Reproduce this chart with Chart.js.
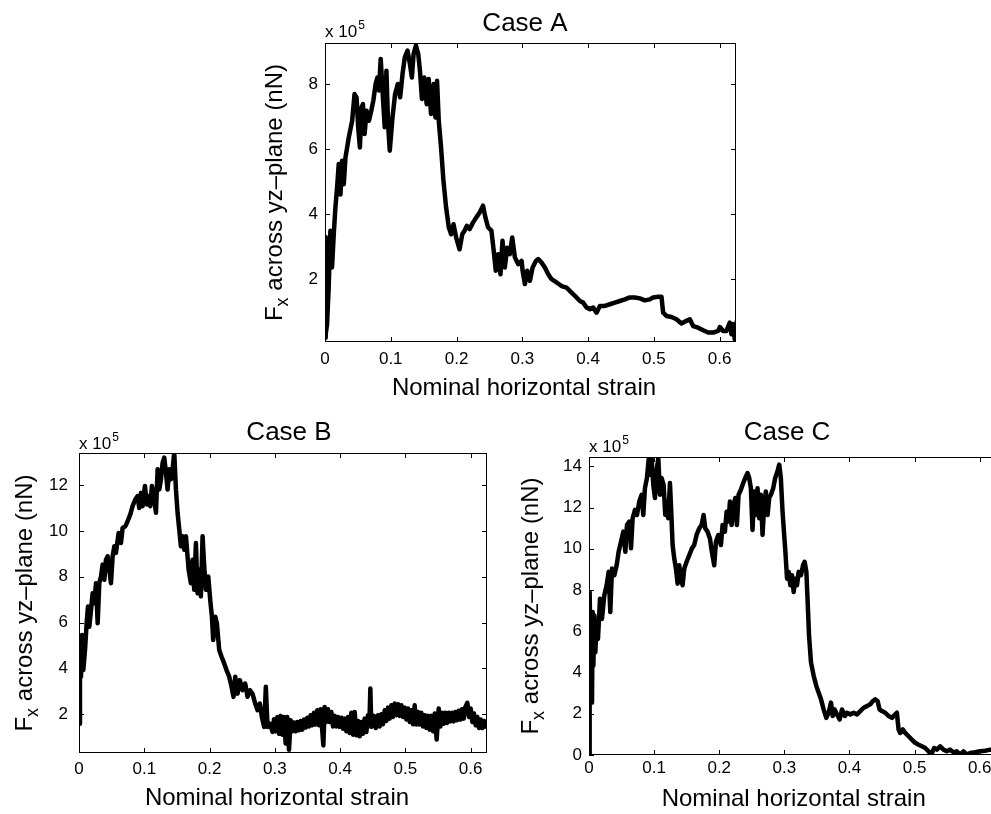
<!DOCTYPE html>
<html>
<head>
<meta charset="utf-8">
<title>Fx across yz-plane</title>
<script src="https://cdn.jsdelivr.net/npm/chart.js"></script>
<style>
  html, body { margin: 0; padding: 0; background: #fff; overflow: hidden; }
  #page { position: relative; width: 991px; height: 814px; overflow: hidden; background: #fff; }
  canvas { position: absolute; }
</style>
</head>
<body>
<div id="page">
  <canvas id="chartA" width="560" height="410" style="left:240px;top:0px"></canvas>
  <canvas id="chartB" width="560" height="409" style="left:0px;top:405px"></canvas>
  <canvas id="chartC" width="554" height="409" style="left:510px;top:405px"></canvas>
</div>
<script>
// values, force in units of 1e5 nN
const caseA_strain = [0, 0.0006, 0.0015, 0.0031, 0.0056, 0.0082, 0.0107, 0.0133, 0.0158, 0.0184, 0.0209, 0.0235, 0.026, 0.0286, 0.0311, 0.0362, 0.0413, 0.0449, 0.048, 0.0505, 0.0531, 0.0556, 0.0577, 0.0602, 0.0633, 0.0668, 0.0704, 0.0735, 0.077, 0.0796, 0.0821, 0.0847, 0.0872, 0.0908, 0.0934, 0.0959, 0.0985, 0.1026, 0.1066, 0.1107, 0.1143, 0.1179, 0.1214, 0.1255, 0.1291, 0.1321, 0.1347, 0.1383, 0.1418, 0.1444, 0.1474, 0.151, 0.1546, 0.1577, 0.1612, 0.1653, 0.1679, 0.1704, 0.173, 0.1765, 0.1801, 0.1842, 0.1883, 0.1918, 0.1954, 0.1995, 0.2046, 0.2087, 0.2122, 0.2158, 0.2199, 0.225, 0.2301, 0.2352, 0.2403, 0.2439, 0.248, 0.2531, 0.2566, 0.2597, 0.2633, 0.2668, 0.2699, 0.2735, 0.277, 0.2811, 0.2847, 0.2888, 0.2939, 0.299,
  0.3005, 0.304, 0.3075, 0.3116, 0.3157, 0.3207, 0.3243, 0.3293, 0.3344, 0.3395, 0.3445, 0.3521, 0.3597, 0.3673, 0.3749, 0.3825, 0.3876, 0.3927, 0.3977, 0.4028, 0.4078, 0.4129, 0.418, 0.4256, 0.4332, 0.4408, 0.4484, 0.456, 0.4636, 0.4712, 0.4788, 0.4864, 0.494, 0.499, 0.5066, 0.5117, 0.5142, 0.5193, 0.5269, 0.5345, 0.5421, 0.5497, 0.5548, 0.5598, 0.5674, 0.575, 0.5826, 0.5902, 0.5978, 0.6004, 0.6054, 0.6105, 0.6155, 0.6181, 0.6206, 0.6231, 0.6262];
const caseA_force = [0.2, 3.3, 0.3, 0.62, 1.74, 3.49, 2.36, 3.38, 4.2, 4.82, 5.54, 4.6, 5.64, 4.92, 5.74, 6.36, 6.87, 7.69, 7.59, 6.67, 6.05, 7.28, 7.38, 6.46, 7.18, 6.87, 7.18, 7.49, 8.0, 8.2, 7.8, 8.77, 7.9, 6.67, 8.41, 6.77, 5.95, 6.97, 7.69, 8.0, 7.59, 8.31, 8.82, 9.03, 8.62, 8.2, 8.92, 9.18, 8.92, 8.41, 7.54, 8.2, 7.38, 8.15, 7.08, 8.0, 6.97, 8.1, 6.87, 6.05, 5.03, 4.2, 3.59, 3.38, 3.69, 3.28, 2.92, 3.38, 3.49, 3.64, 3.54, 3.74, 3.9, 4.05, 4.26, 3.9, 3.59, 3.49, 2.87, 2.26, 2.77, 2.15, 3.18, 2.36, 2.97, 2.77, 3.28, 2.67, 2.46, 2.56,
  2.26, 1.85, 2.26, 1.95, 2.36, 2.56, 2.62, 2.51, 2.36, 2.15, 2.0, 1.9, 1.79, 1.74, 1.59, 1.44, 1.33, 1.28, 1.13, 1.08, 1.13, 0.97, 1.18, 1.18, 1.23, 1.28, 1.33, 1.38, 1.44, 1.44, 1.41, 1.35, 1.38, 1.44, 1.46, 1.46, 0.97, 0.87, 0.84, 0.77, 0.64, 0.72, 0.77, 0.56, 0.51, 0.43, 0.36, 0.36, 0.41, 0.53, 0.41, 0.41, 0.67, 0.31, 0.62, 0.15, 0.72];

const caseB_strain = [0, 0.0015, 0.0031, 0.0046, 0.0066, 0.0092, 0.0117, 0.0138, 0.0158, 0.0184, 0.0209, 0.0235, 0.026, 0.0286, 0.0311, 0.0337, 0.0362, 0.0388, 0.0413, 0.0439, 0.0464, 0.049, 0.0515, 0.0541, 0.0566, 0.0607, 0.0643, 0.0668, 0.0709, 0.0745, 0.0786, 0.0821, 0.0862, 0.0898, 0.0923, 0.0949, 0.0974, 0.101, 0.1041, 0.1066, 0.1092, 0.1117, 0.1153, 0.1179, 0.1204, 0.123, 0.1255, 0.1281, 0.1306, 0.1332, 0.1357, 0.1383, 0.1408, 0.1434, 0.1459, 0.1485, 0.151, 0.1536, 0.1561, 0.1587, 0.1612, 0.1638, 0.1679, 0.1714, 0.174, 0.1765, 0.1791, 0.1816, 0.1842, 0.1867, 0.1893, 0.1918, 0.1944, 0.198, 0.201, 0.2036, 0.2056, 0.2087, 0.2112, 0.2148, 0.2184, 0.2224, 0.226, 0.2301, 0.2337, 0.2367, 0.2393, 0.2429, 0.2464, 0.2505, 0.2546, 0.2582, 0.2617, 0.2658, 0.2699, 0.2735, 0.277, 0.2801, 0.2837, 0.2862, 0.2888, 0.2923, 0.2964,
  0.2987, 0.3013, 0.3038, 0.3064, 0.3089, 0.3115, 0.314, 0.3166, 0.3191, 0.3217, 0.3242, 0.3268, 0.3293, 0.3319, 0.3345, 0.337, 0.3396, 0.3421, 0.3447, 0.3472, 0.3498, 0.3523, 0.3549, 0.3574, 0.36, 0.3625, 0.3651, 0.3676, 0.3702, 0.3743,
  0.3763, 0.3789, 0.3814, 0.384, 0.3865, 0.3891, 0.3917, 0.3942, 0.3968, 0.3993, 0.4019, 0.4044, 0.407, 0.4095, 0.4121, 0.4146, 0.4172, 0.4197, 0.4223, 0.4248, 0.4274, 0.43, 0.4325, 0.4351, 0.4376, 0.4402, 0.4427, 0.4448, 0.4463, 0.4478,
  0.4519, 0.4545, 0.458, 0.4606, 0.4631, 0.4657, 0.4683, 0.4708, 0.4734, 0.4759, 0.4785, 0.481, 0.4836, 0.4861, 0.4887, 0.4912, 0.4938, 0.4963, 0.4989, 0.5015, 0.504, 0.5066, 0.5091, 0.5117, 0.5142, 0.5168, 0.5193, 0.5219, 0.5244, 0.527, 0.5295, 0.5321, 0.5347, 0.5372, 0.5398, 0.5423, 0.5449, 0.5479,
  0.551, 0.5536, 0.5561, 0.5587, 0.5612, 0.5638, 0.5663, 0.5689, 0.5714, 0.574, 0.5765, 0.5791, 0.5816, 0.5842, 0.5868, 0.5893, 0.5919, 0.5949,
  0.5975, 0.6, 0.6026, 0.6051, 0.6077, 0.6102, 0.6128, 0.6153, 0.6179, 0.6204, 0.623];
const caseB_force = [1.59, 5.39, 3.64, 5.46, 3.93, 4.8, 5.97, 6.7, 5.82, 6.55, 7.28, 6.85, 7.72, 5.97, 7.72, 8.01, 8.53, 7.87, 8.74, 8.89, 8.31, 7.72, 8.89, 9.33, 9.04, 9.91, 9.47, 10.13, 10.2, 10.42, 10.72, 11.08, 11.37, 11.52, 11.0, 11.66, 11.08, 11.96, 11.15, 11.52, 11.08, 11.96, 11.37, 10.79, 12.69, 11.81, 12.25, 12.98, 13.2, 12.54, 11.81, 12.69, 12.25, 12.69, 13.42, 11.81, 10.79, 10.06, 9.33, 9.77, 9.18, 9.77, 8.31, 7.72, 8.74, 7.43, 9.47, 7.28, 8.31, 7.14, 9.77, 8.45, 7.43, 8.01, 6.99, 6.26, 5.24, 6.26, 5.97, 4.8, 4.51, 4.22, 3.93, 3.64, 3.2, 2.76, 3.64, 2.9, 3.49, 3.05, 3.34, 2.76, 3.05, 2.9, 2.47, 2.18, 2.47, 1.88, 1.45, 3.2, 1.45, 1.59, 1.23,
  1.78, 1.26, 1.88, 1.15, 1.93, 1.11, 1.88, 0.72, 1.88, 0.45, 1.74, 1.26, 1.64, 1.26, 1.66, 1.3, 1.71, 1.33, 1.77, 1.42, 1.85, 1.47, 1.96, 1.52, 2.07, 1.55, 2.18, 1.52, 2.22, 0.64,
  2.32, 1.66, 2.22, 1.66, 2.1, 1.47, 1.93, 1.47, 1.88, 1.45, 1.85, 1.37, 1.81, 1.26, 1.88, 1.18, 2.07, 1.11, 2.1, 1.08, 1.71, 1.04, 1.66, 1.15, 1.81, 1.23, 1.96, 1.52, 3.12, 1.45,
  1.93, 1.4, 1.96, 1.47, 2.0, 1.56, 2.18, 1.71, 2.29, 1.81, 2.39, 1.88, 2.47, 1.96, 2.44, 1.93, 2.39, 1.88, 2.29, 1.77, 2.25, 1.66, 2.18, 1.56, 2.39, 1.55, 2.1, 1.55, 2.07, 1.47, 1.96, 1.4, 1.93, 1.33, 1.93, 1.26, 2.03, 0.9,
  2.25, 1.47, 2.07, 1.59, 2.07, 1.62, 2.07, 1.69, 2.07, 1.69, 2.1, 1.74, 2.15, 1.77, 2.22, 1.81, 2.32, 2.5,
  1.88, 2.25, 1.66, 2.03, 1.52, 1.88, 1.4, 1.77, 1.4, 1.71, 1.37];

const caseC_strain = [0, 0.001, 0.0025, 0.0046, 0.0056, 0.0067, 0.0082, 0.0097, 0.0118, 0.0138, 0.0169, 0.0199, 0.0235, 0.0271, 0.0302, 0.0327, 0.0353, 0.0389, 0.0425, 0.0455, 0.0491, 0.0527, 0.0558, 0.0583, 0.0619, 0.0645, 0.067, 0.0706, 0.0737, 0.0772, 0.0808, 0.0834, 0.0859, 0.089, 0.0916, 0.0936, 0.0962, 0.0987, 0.1013, 0.1038, 0.1064, 0.109, 0.1115, 0.1146, 0.1171, 0.1197, 0.1217, 0.1243, 0.1263, 0.1284, 0.1309, 0.1335, 0.1361, 0.1386, 0.1412, 0.1437, 0.1463, 0.1499, 0.154, 0.1581, 0.1616, 0.1652, 0.1693, 0.1729, 0.176, 0.1785, 0.1821, 0.1857, 0.1887, 0.1923, 0.1949, 0.1985, 0.2026, 0.2051, 0.2087, 0.2113, 0.2143, 0.2164, 0.219, 0.222, 0.2246, 0.2271, 0.2297, 0.2332, 0.2368, 0.2399, 0.2435, 0.246, 0.2486, 0.2511, 0.2537, 0.2563, 0.2588, 0.2614, 0.2639, 0.2665, 0.2691, 0.2716, 0.2742, 0.2767, 0.2793, 0.2829, 0.2859, 0.2895, 0.2921, 0.2946, 0.2972,
  0.299, 0.3016, 0.3041, 0.3067, 0.3092, 0.3118, 0.3143, 0.3169, 0.3194, 0.322, 0.3256, 0.3287, 0.3312, 0.3338, 0.3358, 0.3379, 0.3409, 0.345, 0.3491, 0.3527, 0.3563, 0.3603, 0.3644, 0.368, 0.3716, 0.3742, 0.3772, 0.3808, 0.3849, 0.3885, 0.393, 0.3961, 0.4012, 0.4064, 0.4115, 0.4166, 0.4217, 0.4268, 0.4319, 0.436, 0.4396, 0.4432, 0.4462, 0.4498, 0.4549, 0.46, 0.4652, 0.4703, 0.4728, 0.4754, 0.4779, 0.482, 0.4856, 0.4907, 0.4958, 0.5009, 0.5061, 0.5112, 0.5163, 0.5214, 0.5255, 0.5301, 0.5342, 0.5393, 0.5444, 0.5495, 0.5546, 0.5597, 0.5648, 0.5699, 0.5751, 0.5802, 0.5853, 0.593, 0.6006, 0.6083, 0.6165, 0.625];
const caseC_force = [0.05, 7.9, 4.2, 2.54, 6.93, 4.33, 6.76, 4.98, 6.44, 5.63, 7.58, 6.6, 7.74, 8.23, 8.88, 6.93, 9.04, 8.72, 9.2, 9.85, 10.34, 10.83, 9.85, 11.15, 11.32, 10.02, 11.48, 11.89, 11.64, 12.29, 12.62, 11.64, 12.94, 13.43, 14.33, 13.59, 14.4, 13.1, 12.46, 13.76, 14.4, 12.62, 13.43, 13.1, 11.64, 12.29, 11.48, 13.19, 11.8, 10.18, 9.53, 9.04, 8.31, 9.2, 8.55, 8.23, 9.04, 9.37, 9.69, 10.02, 10.18, 10.67, 10.99, 11.15, 11.64, 10.99, 10.83, 10.5, 9.85, 9.2, 10.34, 10.67, 10.18, 11.15, 10.83, 11.8, 11.32, 12.29, 11.15, 12.13, 12.46, 11.15, 12.62, 12.86, 13.19, 13.43, 13.67, 13.43, 12.94, 10.91, 12.78, 11.64, 12.94, 11.48, 12.62, 10.67, 12.13, 12.78, 11.64, 12.46, 12.62, 12.94, 13.43, 13.76, 14.08, 13.43, 11.8,
  10.99, 9.85, 8.55, 8.88, 8.23, 8.72, 7.9, 8.55, 8.23, 8.88, 8.72, 9.2, 9.37, 8.88, 7.41, 5.79, 4.49, 3.84, 3.35, 3.02, 2.7, 2.21, 1.8, 2.05, 2.54, 1.89, 2.21, 1.97, 1.72, 2.21, 1.89, 2.05, 1.97, 2.05, 1.97, 2.13, 2.29, 2.37, 2.46, 2.62, 2.7, 2.62, 2.21, 2.13, 2.05, 1.89, 1.8, 1.97, 2.05, 1.24, 1.07, 1.24, 1.07, 0.91, 0.75, 0.59, 0.5, 0.42, 0.34, 0.18, 0.02, 0.34, 0.26, 0.42, 0.26, 0.18, 0.26, 0.13, 0.18, 0.02, 0.18, 0.02, 0.1, 0.13, 0.18, 0.21, 0.26, 0.28];

const strainTicks = [0, 0.1, 0.2, 0.3, 0.4, 0.5, 0.6];
const xLabel = 'Nominal horizontal strain';

const FONT = '"Liberation Sans", Arial, Helvetica, sans-serif';

// MATLAB style frame: box, inward ticks on all sides, titles and the x 10^5 factor
const matlabAxes = {
  id: 'matlabAxes',
  afterDraw(chart, args, opts) {
    const { ctx, chartArea: a, scales: { x, y } } = chart;
    const L = Math.round(a.left), R = Math.round(a.right);
    const T = Math.round(a.top), B = Math.round(a.bottom);
    ctx.save();
    ctx.fillStyle = '#000';
    ctx.fillRect(L, T, R - L, 1);
    ctx.fillRect(L, B - 1, R - L, 1);
    ctx.fillRect(L, T, 1, B - T);
    ctx.fillRect(R - 1, T, 1, B - T);
    x.ticks.forEach(t => {
      const px = Math.round(x.getPixelForValue(t.value));
      ctx.fillRect(px, B - 5, 1, 5);
      ctx.fillRect(px, T, 1, 5);
    });
    y.ticks.forEach(t => {
      const py = Math.round(y.getPixelForValue(t.value));
      ctx.fillRect(L, py, 5, 1);
      ctx.fillRect(R - 5, py, 5, 1);
    });

    const cx = (a.left + a.right) / 2;
    ctx.textBaseline = 'middle';
    ctx.textAlign = 'center';
    ctx.font = '26px ' + FONT;
    ctx.fillText(opts.title, cx + opts.titleDx, a.top + opts.titleDy);
    ctx.font = '24px ' + FONT;
    ctx.fillText(xLabel, cx + opts.xlabelDx, a.bottom + opts.xlabelDy);

    // multiplier above the axes
    ctx.textAlign = 'left';
    ctx.textBaseline = 'alphabetic';
    ctx.font = '17px ' + FONT;
    const base = a.top - opts.factorGap;
    ctx.fillText('x 10', a.left, base);
    const w10 = ctx.measureText('x 10').width;
    ctx.font = '12px ' + FONT;
    ctx.fillText('5', a.left + w10 + 1, base - 8);

    // y label with subscript x
    const big = '24px ' + FONT, small = '18px ' + FONT;
    const rest = ' across yz\u2013plane (nN)';
    ctx.font = big;
    const wF = ctx.measureText('F').width, wR = ctx.measureText(rest).width;
    ctx.font = small;
    const wx = ctx.measureText('x').width;
    const total = wF + wx + wR;
    ctx.translate(a.left - opts.ylabelGap, (a.top + a.bottom) / 2);
    ctx.rotate(-Math.PI / 2);
    let tx = -total / 2;
    ctx.font = big; ctx.fillText('F', tx, 0); tx += wF;
    ctx.font = small; ctx.fillText('x', tx, 6); tx += wx;
    ctx.font = big; ctx.fillText(rest, tx, 0);
    ctx.restore();
  }
};

function makeChart(id, cfg) {
  const pts = cfg.strain.map((s, i) => ({ x: s, y: cfg.force[i] }));
  return new Chart(document.getElementById(id), {
    type: 'line',
    data: {
      datasets: [{
        data: pts,
        borderColor: '#000',
        borderWidth: 4.5,
        borderJoinStyle: 'round',
        pointRadius: 0,
        tension: 0,
        fill: false
      }]
    },
    options: {
      responsive: false,
      animation: false,
      devicePixelRatio: 1,
      layout: { padding: { left: 0, top: cfg.padTop, right: cfg.padRight, bottom: 0 } },
      plugins: {
        legend: { display: false },
        tooltip: { enabled: false },
        title: { display: false },
        matlabAxes: cfg.text
      },
      scales: {
        x: {
          type: 'linear',
          min: 0,
          max: 0.625,
          afterFit: s => { s.height = cfg.xHeight; },
          afterBuildTicks: s => { s.ticks = strainTicks.map(v => ({ value: v })); },
          grid: { display: false, drawTicks: false },
          border: { display: false },
          ticks: {
            color: '#000',
            padding: cfg.xTickPad,
            autoSkip: false,
            maxRotation: 0,
            font: { family: FONT, size: 17 },
            callback: v => String(+v.toFixed(1))
          }
        },
        y: {
          type: 'linear',
          min: cfg.yMin,
          max: cfg.yMax,
          afterFit: s => { s.width = cfg.yWidth; },
          afterBuildTicks: s => { s.ticks = cfg.yTicks.map(v => ({ value: v })); },
          grid: { display: false, drawTicks: false },
          border: { display: false },
          ticks: {
            color: '#000',
            padding: cfg.yTickPad,
            autoSkip: false,
            font: { family: FONT, size: 17 },
            callback: v => String(v)
          }
        }
      }
    },
    plugins: [matlabAxes]
  });
}

makeChart('chartA', {
  strain: caseA_strain, force: caseA_force,
  yMin: 0.07, yMax: 9.26, yTicks: [2, 4, 6, 8],
  yWidth: 85, padTop: 43, padRight: 64, xHeight: 68, xTickPad: 7, yTickPad: 7,
  text: { title: 'Case A', titleDx: -5.5, titleDy: -19, xlabelDx: -6.5, xlabelDy: 46.7, ylabelGap: 43, factorGap: 6 }
});
makeChart('chartB', {
  strain: caseB_strain, force: caseB_force,
  yMin: 0.31, yMax: 13.4, yTicks: [2, 4, 6, 8, 10, 12],
  yWidth: 79, padTop: 48, padRight: 73, xHeight: 61, xTickPad: 6, yTickPad: 11,
  text: { title: 'Case B', titleDx: 6, titleDy: -20.5, xlabelDx: -6, xlabelDy: 45.7, ylabelGap: 47, factorGap: 4 }
});
makeChart('chartC', {
  strain: caseC_strain, force: caseC_force,
  yMin: 0, yMax: 14.45, yTicks: [0, 2, 4, 6, 8, 10, 12, 14],
  yWidth: 79, padTop: 52, padRight: 68, xHeight: 59, xTickPad: 3, yTickPad: 7,
  text: { title: 'Case C', titleDx: -5.5, titleDy: -24, xlabelDx: 1.2, xlabelDy: 44, ylabelGap: 51, factorGap: 5 }
});
</script>
</body>
</html>
